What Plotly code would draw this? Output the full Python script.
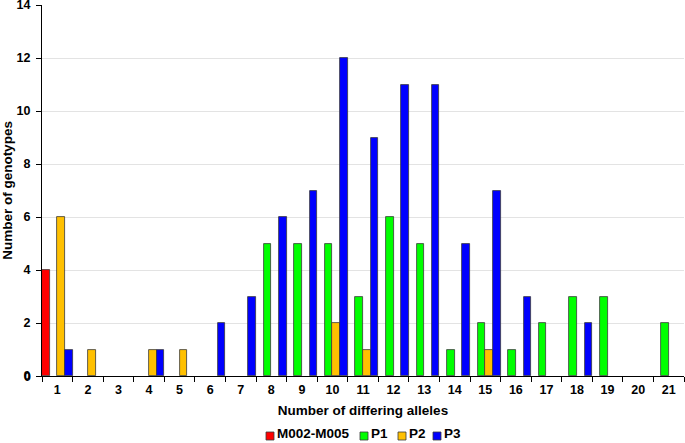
import plotly.graph_objects as go

categories = [str(i) for i in range(1, 22)]
m002_m005 = [4, 0, 0, 0, 0, 0, 0, 0, 0, 0, 0, 0, 0, 0, 0, 0, 0, 0, 0, 0, 0]
p1 = [0, 0, 0, 0, 0, 0, 0, 5, 5, 5, 3, 6, 5, 1, 2, 1, 2, 3, 3, 0, 2]
p2 = [6, 1, 0, 1, 1, 0, 0, 0, 0, 2, 1, 0, 0, 0, 1, 0, 0, 0, 0, 0, 0]
p3 = [1, 0, 0, 1, 0, 2, 3, 6, 7, 12, 9, 11, 11, 5, 7, 3, 0, 2, 0, 0, 0]
y_ticks = [0, 2, 4, 6, 8, 10, 12, 14]

series = [
    ("M002-M005", m002_m005, "#ff0000"),
    ("P1", p1, "#00ff00"),
    ("P2", p2, "#ffc000"),
    ("P3", p3, "#0000ff"),
]

W, H = 685, 443
ML, MR, MT, MB = 42, 1, 5, 67
plot_w = W - ML - MR
plot_h = H - MT - MB


def px_to_paper_x(px):
    return (px - ML) / plot_w


def px_to_paper_y(py):
    return (H - MB - py) / plot_h


font_family = "Liberation Sans, Arial, sans-serif"

fig = go.Figure()
for name, vals, color in series:
    fig.add_trace(go.Bar(
        x=categories,
        y=[v if v != 0 else None for v in vals],
        name=name,
        showlegend=False,
        marker=dict(color=color, line=dict(color="#3a3a3a", width=0.8)),
    ))

# custom compact legend (layout only)
legend_items = [("M002-M005", "#ff0000", 266), ("P1", "#00ff00", 360),
                ("P2", "#ffc000", 398), ("P3", "#0000ff", 433)]
legend_sq_y = 436
shapes = []
annotations = []
for label, color, x0 in legend_items:
    shapes.append(dict(
        type="rect", xref="paper", yref="paper",
        x0=px_to_paper_x(x0), x1=px_to_paper_x(x0 + 8),
        y0=px_to_paper_y(legend_sq_y + 4), y1=px_to_paper_y(legend_sq_y - 4),
        fillcolor=color, line=dict(color="#3a3a3a", width=0.8),
    ))
    annotations.append(dict(
        text=label, xref="paper", yref="paper",
        x=px_to_paper_x(x0 + 9), y=px_to_paper_y(H - 0.5),
        xanchor="left", yanchor="bottom", showarrow=False,
        font=dict(size=13.5, family=font_family, weight="bold", color="black"),
    ))

# zero label of the value axis, placed in paper coordinates
annotations.append(dict(
    text=str(y_ticks[0]), xref="paper", yref="paper",
    x=px_to_paper_x(32.5), y=px_to_paper_y(376.5),
    xanchor="right", yanchor="middle", showarrow=False,
    font=dict(size=12.5, family=font_family, weight="bold", color="black"),
))

fig.update_layout(
    width=W, height=H,
    margin=dict(l=ML, r=MR, t=MT, b=MB),
    paper_bgcolor="white", plot_bgcolor="white",
    barmode="group", bargap=0, bargroupgap=0,
    font=dict(family=font_family, size=12, color="black"),
    showlegend=False,
    shapes=shapes,
    annotations=annotations,
    xaxis=dict(
        type="category", automargin=False,
        showline=True, linecolor="black", linewidth=1,
        ticks="outside", tickson="boundaries", ticklen=5, tickcolor="black",
        ticklabelstandoff=2,
        tickfont=dict(size=12.5, weight="bold"),
        title=dict(text="Number of differing alleles", font=dict(size=13.5, weight="bold"), standoff=9),
        showgrid=False,
    ),
    yaxis=dict(
        range=[0, 14.003], tickmode="array", tickvals=y_ticks, ticktext=[str(v) for v in y_ticks],
        automargin=False, ticklabeloverflow="allow",
        showline=True, linecolor="black", linewidth=1,
        ticks="outside", ticklen=5, tickcolor="black",
        ticklabelstandoff=3,
        tickfont=dict(size=12.5, weight="bold"),
        title=dict(text="Number of genotypes", font=dict(size=13.5, weight="bold"), standoff=6),
        showgrid=True, gridcolor="#e3e3e3", gridwidth=1,
        zeroline=False,
    ),
)

fig.write_html("out.html", config={"displayModeBar": False},
               post_script="document.body.style.margin='0';")
